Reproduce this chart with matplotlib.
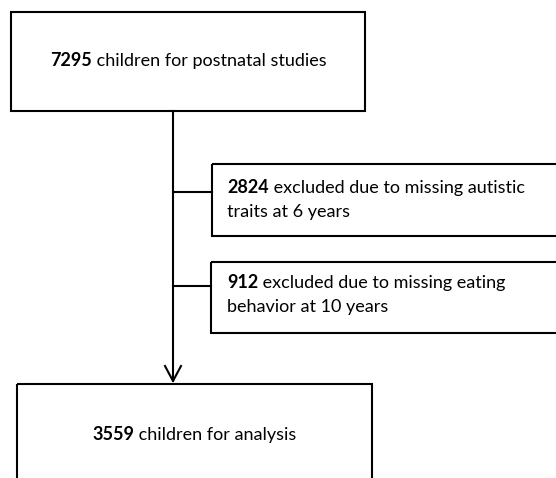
import matplotlib
matplotlib.use("Agg")
import matplotlib.pyplot as plt
import matplotlib.patches as patches

# contenu du diagramme de flux
start_n = "7295"
start_txt = " children for postnatal studies"
excl_n = ["2824", "912"]
excl_txt = [[" excluded due to missing autistic", "traits at 6 years"],
            [" excluded due to missing eating", "behavior at 10 years"]]
final_n = "3559"
final_txt = " children for analysis"

W, H = 556, 478
fig = plt.figure(figsize=(W / 100, H / 100), dpi=100)
ax = fig.add_axes([0, 0, 1, 1])
ax.set_xlim(0, W)
ax.set_ylim(H, 0)  # coordonnées en pixels, y vers le bas
ax.axis('off')

plt.rcParams['font.family'] = ['Lato', 'DejaVu Sans']
fs = 13
lw = 1.5
r = fig.canvas.get_renderer()


def box(x0, y0, x1, y1):
    ax.add_patch(patches.Rectangle((x0, y0), x1 - x0, y1 - y0, fill=False,
                                   edgecolor='black', linewidth=lw, clip_on=True))


def rich(x, y, bold, rest, center=False):
    # nombre en gras suivi du texte normal
    t1 = ax.text(x, y, bold, fontsize=fs, weight='bold', va='baseline', ha='left')
    t2 = ax.text(x, y, rest, fontsize=fs, va='baseline', ha='left')
    w1 = t1.get_window_extent(r).width
    w2 = t2.get_window_extent(r).width
    x0 = x - (w1 + w2) / 2 if center else x
    t1.set_x(x0)
    t2.set_x(x0 + w1)


# boîte de départ
box(11, 12, 365, 111)
rich((11 + 365) / 2, 66, start_n, start_txt, center=True)

# tronc vertical avec flèche ouverte
x_tr = 173
ax.plot([x_tr, x_tr], [111, 381], color='black', lw=lw)
ax.plot([x_tr - 8, x_tr, x_tr + 8], [366, 381, 366], color='black', lw=lw)

# boîtes d'exclusion
ex_boxes = [(212, 164, 236), (211, 262, 333)]
branch_y = [192, 286]
base1 = [193, 288]
for (bx, by0, by1), n, lines, b, yb in zip(ex_boxes, excl_n, excl_txt, base1, branch_y):
    box(bx, by0, W + 10, by1)
    ax.plot([x_tr, bx], [yb, yb], color='black', lw=lw)
    rich(227, b, n, lines[0])
    ax.text(227, b + 24, lines[1], fontsize=fs, va='baseline', ha='left')

# boîte finale (coupée en bas)
box(17, 384, 372, H + 20)
rich((17 + 372) / 2, 440, final_n, final_txt, center=True)

fig.savefig("out.png", dpi=100)
